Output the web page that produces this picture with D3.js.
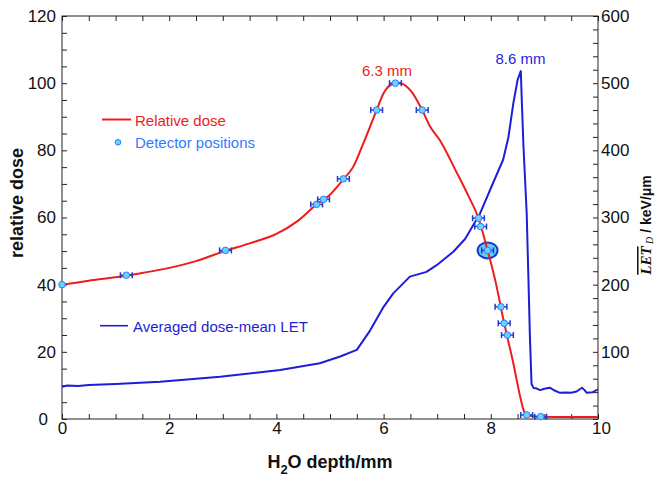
<!DOCTYPE html>
<html><head><meta charset="utf-8">
<script src="https://cdn.jsdelivr.net/npm/d3@7"></script>
<style>
body{margin:0;background:#fff;}
svg{display:block;font-family:"Liberation Sans",Arial,Helvetica,sans-serif;}
</style>
</head><body>
<svg id="chart" width="656" height="479"></svg>
<script>
// ---- data ----
const doseDepth  = [0, 0.5, 1.0, 1.5, 2.0, 2.5, 3.0, 3.5, 4.0, 4.4, 4.75, 5.0, 5.25, 5.43, 5.62, 5.87, 6.0, 6.15, 6.3, 6.52, 6.72, 6.87, 7.05, 7.36, 7.58, 7.77, 7.94, 8.08, 8.25, 8.42, 8.55, 8.61, 8.67, 8.9, 9.5, 10];
const doseValues = [40, 41.2, 42.2, 43.5, 45.0, 47.0, 49.8, 52.3, 55.1, 59.0, 63.9, 66.8, 71.4, 75, 82, 92, 97, 99.6, 100, 97.5, 92, 87, 83, 73.5, 66.5, 59.8, 50.2, 41.5, 28.5, 16.6, 6.5, 2.7, 1.2, 0.7, 0.6, 0.6];

const letDepth  = [0, 0.1, 0.3, 0.5, 1.0, 1.83, 2.95, 4.07, 4.81, 5.19, 5.5, 5.75, 6.0, 6.18, 6.49, 6.8, 6.99, 7.3, 7.52, 7.8, 8.04, 8.23, 8.33, 8.42, 8.5, 8.56, 8.58, 8.61, 8.67, 8.7, 8.73, 8.76, 8.8, 8.85, 8.92, 9.0, 9.1, 9.2, 9.29, 9.4, 9.5, 9.6, 9.7, 9.75, 9.79, 9.9, 10.0];
const letValues = [48, 50, 49, 50.5, 52, 55.5, 63, 73, 83, 93, 103, 132, 167, 187, 212, 219, 229, 249, 268, 306, 351, 386, 420, 470, 505, 518, 470, 405, 306, 215, 122, 52, 46, 45.7, 43, 45, 46.6, 42, 39, 39.5, 39, 41, 46.6, 43, 39, 40, 44];

const detectorDepth = [0, 1.2, 3.05, 4.75, 4.88, 5.25, 5.87, 6.22, 6.72, 7.77, 7.81, 7.94, 8.19, 8.25, 8.31, 8.67, 8.93];
const detectorDose  = [40, 42.8, 50.2, 63.9, 65.4, 71.5, 92, 100, 92, 59.8, 57.3, 50.2, 33.4, 28.5, 25, 1.2, 0.7];
const detectorErr   = [0, 0.11, 0.11, 0.11, 0.11, 0.11, 0.11, 0.11, 0.11, 0.11, 0.11, 0.11, 0.11, 0.11, 0.11, 0.11, 0.11];
const highlightedDetector = 11;

const xTickLabels     = [0, 2, 4, 6, 8, 10];
const xMinorTicks     = [0, 0.5, 1, 1.5, 2, 2.5, 3, 3.5, 4, 4.5, 5, 5.5, 6, 6.5, 7, 7.5, 8, 8.5, 9, 9.5, 10];
const leftTickLabels  = [0, 20, 40, 60, 80, 100, 120];
const leftMinorTicks  = [0, 5, 10, 15, 20, 25, 30, 35, 40, 45, 50, 55, 60, 65, 70, 75, 80, 85, 90, 95, 100, 105, 110, 115, 120];
const rightTickLabels = [100, 200, 300, 400, 500, 600];
const rightMinorTicks = [0, 20, 40, 60, 80, 100, 120, 140, 160, 180, 200, 220, 240, 260, 280, 300, 320, 340, 360, 380, 400, 420, 440, 460, 480, 500, 520, 540, 560, 580, 600];

const peakLabels = [
  {text: "6.3 mm", cls: "dose"},
  {text: "8.6 mm", cls: "let"}
];

// ---- styles ----
const RED = "#ee1c1c", BLUE = "#1e1ed8", LIGHTBLUE = "#2f7dff";
const AX = "#222";

const svg = d3.select("#chart");
const L = 62, R = 598, T = 16, B = 419;
const x  = d3.scaleLinear().domain([0, 10]).range([L, R]);
const yL = d3.scaleLinear().domain([0, 120]).range([B, T]);
const yR = d3.scaleLinear().domain([0, 600]).range([B, T]);

function styleAxis(g) {
  g.select(".domain").remove();
  g.selectAll(".tick line").attr("stroke", AX).attr("stroke-width", 1);
  g.selectAll(".tick text").attr("fill", "#111").style("font-size", "17px")
    .style("font-family", '"Liberation Sans",Arial,sans-serif');
}

// ticks (inward)
svg.append("g").attr("transform", `translate(0,${B})`)
  .call(d3.axisBottom(x).tickValues(xMinorTicks).tickSize(-5).tickFormat(""))
  .call(styleAxis);
svg.append("g").attr("transform", `translate(0,${T})`)
  .call(d3.axisTop(x).tickValues(xMinorTicks).tickSize(-5).tickFormat(""))
  .call(styleAxis);
svg.append("g").attr("transform", `translate(${L},0)`)
  .call(d3.axisLeft(yL).tickValues(leftMinorTicks).tickSize(-5).tickFormat(""))
  .call(styleAxis);
svg.append("g").attr("transform", `translate(${R},0)`)
  .call(d3.axisRight(yR).tickValues(rightMinorTicks).tickSize(-5).tickFormat(""))
  .call(styleAxis);

// labels
const xLab = svg.append("g").attr("transform", `translate(0,${B})`)
  .call(d3.axisBottom(x).tickValues(xTickLabels).tickSize(0).tickPadding(3).tickFormat(d3.format("d")))
  .call(styleAxis);
xLab.selectAll(".tick text").filter(d => d === 10).attr("x", 3);

const yLab = svg.append("g").attr("transform", `translate(${L},0)`)
  .call(d3.axisLeft(yL).tickValues(leftTickLabels).tickSize(0).tickPadding(6).tickFormat(d3.format("d")))
  .call(styleAxis);
yLab.selectAll(".tick text").filter(d => d === 0).attr("x", -14);

svg.append("g").attr("transform", `translate(${R},0)`)
  .call(d3.axisRight(yR).tickValues(rightTickLabels).tickSize(0).tickPadding(3).tickFormat(d3.format("d")))
  .call(styleAxis);

// frame
svg.append("rect").attr("x", L).attr("y", T).attr("width", R - L).attr("height", B - T)
  .attr("fill", "none").attr("stroke", AX).attr("stroke-width", 1);

// axis titles
svg.append("text").attr("transform", "translate(23,203) rotate(-90)")
  .attr("text-anchor", "middle").style("font-size", "18px").style("font-weight", "bold").attr("fill", "#111")
  .text("relative dose");

const xt = svg.append("text").attr("x", (L + R) / 2).attr("y", 468).attr("text-anchor", "middle")
  .style("font-size", "18px").style("font-weight", "bold").attr("fill", "#111");
xt.append("tspan").text("H");
xt.append("tspan").attr("dy", 6).style("font-size", "13px").text("2");
xt.append("tspan").attr("dy", -6).text("O depth/mm");

const rt = svg.append("text").attr("transform", "translate(651,225) rotate(-90)")
  .attr("text-anchor", "middle").attr("fill", "#111");
rt.append("tspan").style("font-family", '"Liberation Serif","Times New Roman",serif')
  .style("font-style", "italic").style("font-weight", "bold").style("font-size", "15px")
  .style("text-decoration", "overline").text("LET");
rt.append("tspan").attr("dy", 2).style("font-family", '"Liberation Serif","Times New Roman",serif')
  .style("font-style", "italic").style("font-size", "10px").text(" D");
rt.append("tspan").attr("dy", -2).style("font-weight", "bold").style("font-size", "14px").text("  / keV/μm");

// highlight ellipse
svg.append("ellipse")
  .attr("cx", x(detectorDepth[highlightedDetector]))
  .attr("cy", yL(detectorDose[highlightedDetector]))
  .attr("rx", 10).attr("ry", 8)
  .attr("fill", "#62cdfa").attr("stroke", "#1838c8").attr("stroke-width", 2);

// lines
const letLine = d3.line().x((d, i) => x(letDepth[i])).y((d, i) => yR(letValues[i])).curve(d3.curveLinear);
svg.append("path").attr("d", letLine(letDepth)).attr("fill", "none")
  .attr("stroke", BLUE).attr("stroke-width", 2).attr("stroke-linejoin", "round");

const doseLine = d3.line().x((d, i) => x(doseDepth[i])).y((d, i) => yL(doseValues[i])).curve(d3.curveMonotoneX);
svg.append("path").attr("d", doseLine(doseDepth)).attr("fill", "none")
  .attr("stroke", RED).attr("stroke-width", 2).attr("stroke-linejoin", "round");

// detector markers with error bars
const det = svg.append("g").selectAll("g").data(detectorDepth).join("g");
det.each(function (d, i) {
  if (detectorErr[i] <= 0) return;
  const g = d3.select(this);
  const cy = yL(detectorDose[i]);
  const x0 = x(d - detectorErr[i]), x1 = x(d + detectorErr[i]);
  g.append("line").attr("x1", x0).attr("x2", x1).attr("y1", cy).attr("y2", cy)
    .attr("stroke", "#1e3cc8").attr("stroke-width", 1.5);
  [x0, x1].forEach(xx => g.append("line").attr("x1", xx).attr("x2", xx).attr("y1", cy - 3).attr("y2", cy + 3)
    .attr("stroke", "#1e3cc8").attr("stroke-width", 1.5));
});
det.append("circle").attr("cx", d => x(d)).attr("cy", (d, i) => yL(detectorDose[i])).attr("r", 3.3)
  .attr("fill", "#66d2ff").attr("stroke", "#2f7dff").attr("stroke-width", 1);

// peak labels
peakLabels.forEach(p => {
  const isDose = p.cls === "dose";
  svg.append("text").attr("x", isDose ? 387 : 520.5).attr("y", isDose ? 75.5 : 64)
    .attr("text-anchor", "middle").style("font-size", "15px")
    .attr("fill", isDose ? RED : BLUE).text(p.text);
});

// legend
svg.append("line").attr("x1", 102).attr("x2", 131).attr("y1", 119.5).attr("y2", 119.5)
  .attr("stroke", RED).attr("stroke-width", 2);
svg.append("text").attr("x", 135).attr("y", 125.5).style("font-size", "15px").attr("fill", RED).text("Relative dose");
svg.append("circle").attr("cx", 118).attr("cy", 142.3).attr("r", 2.8)
  .attr("fill", "#66d2ff").attr("stroke", "#2f7dff").attr("stroke-width", 1);
svg.append("text").attr("x", 135).attr("y", 147.5).style("font-size", "15px").attr("fill", LIGHTBLUE).text("Detector positions");
svg.append("line").attr("x1", 100).attr("x2", 128).attr("y1", 325.7).attr("y2", 325.7)
  .attr("stroke", BLUE).attr("stroke-width", 1.6);
svg.append("text").attr("x", 133).attr("y", 332).style("font-size", "15px").attr("fill", BLUE).text("Averaged dose-mean LET");
</script>
</body></html>
